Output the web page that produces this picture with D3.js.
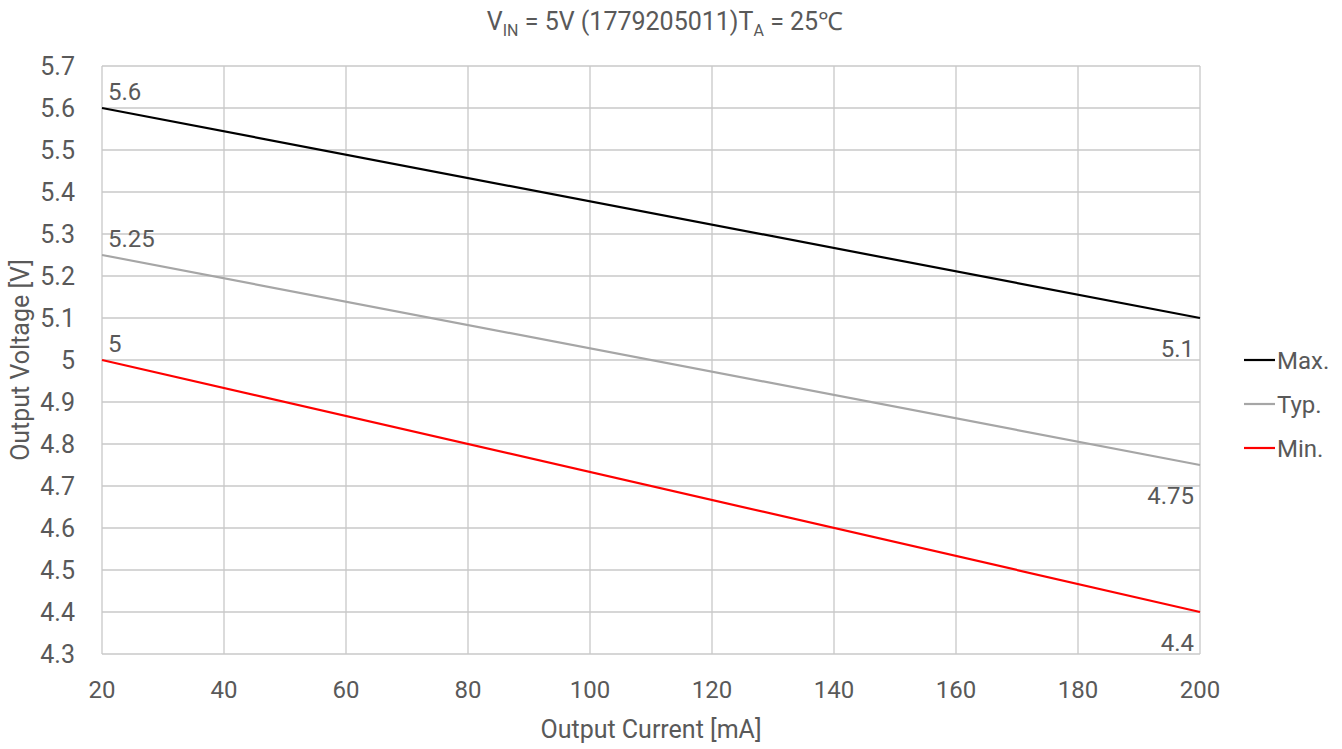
<!DOCTYPE html>
<html>
<head>
<meta charset="utf-8">
<script src="https://cdn.jsdelivr.net/npm/d3@7"></script>
<style>
  body { margin: 0; background: #fff; }
  svg text { font-family: "Liberation Sans Narrow", "Roboto", sans-serif; fill: #595959; }
</style>
</head>
<body>
<div id="chart"></div>
<script>
// datos
var current = [20, 200];
var vMax = [5.6, 5.1];
var vTyp = [5.25, 4.75];
var vMin = [5.0, 4.4];
var xTicks = [20, 40, 60, 80, 100, 120, 140, 160, 180, 200];
var yTicks = [4.3, 4.4, 4.5, 4.6, 4.7, 4.8, 4.9, 5, 5.1, 5.2, 5.3, 5.4, 5.5, 5.6, 5.7];
var seriesNames = ['Max.', 'Typ.', 'Min.'];
var seriesColors = ['#000000', '#a6a6a6', '#ff0000'];

var width = 1342, height = 749;
var svg = d3.select('#chart').append('svg')
    .attr('width', width).attr('height', height);

var x = d3.scaleLinear().domain([20, 200]).range([102, 1200]);
var y = d3.scaleLinear().domain([4.3, 5.7]).range([654, 66]);

// rejilla
svg.append('g').selectAll('line.v').data(xTicks).enter().append('line')
    .attr('x1', d => x(d)).attr('x2', d => x(d))
    .attr('y1', y(5.7)).attr('y2', y(4.3))
    .attr('stroke', '#c8c8c8').attr('stroke-width', 1.3);
svg.append('g').selectAll('line.h').data(yTicks).enter().append('line')
    .attr('x1', x(20)).attr('x2', x(200))
    .attr('y1', d => y(d)).attr('y2', d => y(d))
    .attr('stroke', '#c8c8c8').attr('stroke-width', 1.3);

// etiquetas de ejes
svg.append('g').selectAll('text').data(xTicks).enter().append('text')
    .attr('x', d => x(d)).attr('y', 698)
    .attr('text-anchor', 'middle').attr('font-size', 24)
    .text(d => d);
svg.append('g').selectAll('text').data(yTicks).enter().append('text')
    .attr('x', 75).attr('y', d => y(d) + 9)
    .attr('text-anchor', 'end').attr('font-size', 25)
    .text(d => d);

// titulos
var title = svg.append('text').attr('x', 665).attr('y', 30)
    .attr('text-anchor', 'middle').attr('font-size', 25);
title.append('tspan').text('V');
title.append('tspan').attr('font-size', 16).attr('dy', 6).text('IN');
title.append('tspan').attr('dy', -6).text(' = 5V (1779205011)T');
title.append('tspan').attr('font-size', 16).attr('dy', 6).text('A');
title.append('tspan').attr('dy', -6).text(' = 25℃');

svg.append('text').attr('x', 651).attr('y', 738)
    .attr('text-anchor', 'middle').attr('font-size', 25)
    .text('Output Current [mA]');
svg.append('text')
    .attr('transform', 'translate(29,' + 360 + ') rotate(-90)')
    .attr('text-anchor', 'middle').attr('font-size', 25)
    .text('Output Voltage [V]');

// series
var series = [vMax, vTyp, vMin];
var line = d3.line().x((d, i) => x(current[i])).y(d => y(d));
svg.append('g').selectAll('path').data(series).enter().append('path')
    .attr('d', d => line(d))
    .attr('fill', 'none')
    .attr('stroke', (d, i) => seriesColors[i])
    .attr('stroke-width', 2.2);

// etiquetas de datos
series.forEach(function(s, i) {
    svg.append('text').attr('x', x(current[0]) + 6).attr('y', y(s[0]) - 8)
        .attr('font-size', 24).text(s[0]);
    svg.append('text').attr('x', x(current[1]) - 6).attr('y', y(s[1]) + 39)
        .attr('text-anchor', 'end').attr('font-size', 24).text(s[1]);
});

// leyenda
var legend = svg.append('g').selectAll('g').data(seriesNames).enter().append('g')
    .attr('transform', (d, i) => 'translate(1244,' + (360 + i * 44) + ')');
legend.append('line').attr('x1', 0).attr('x2', 31).attr('y1', 0).attr('y2', 0)
    .attr('stroke', (d, i) => seriesColors[i]).attr('stroke-width', 2.2);
legend.append('text').attr('x', 33).attr('y', 9).attr('font-size', 24).text(d => d);
</script>
</body>
</html>
